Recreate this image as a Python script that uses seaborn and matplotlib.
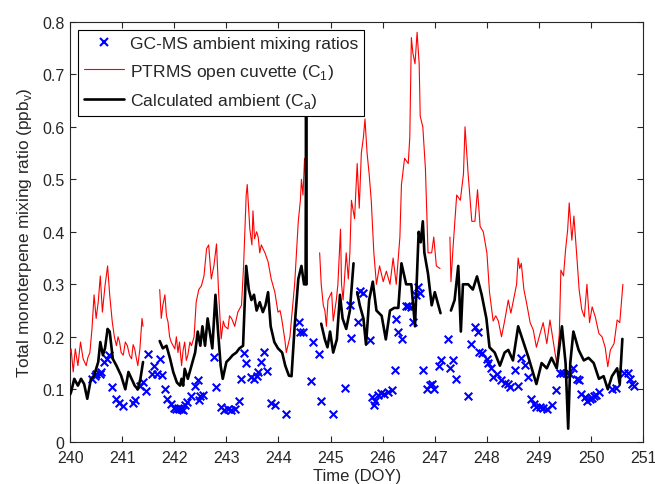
import numpy as np
import pandas as pd
import matplotlib
matplotlib.use("Agg")
import matplotlib.pyplot as plt
from matplotlib.lines import Line2D
import seaborn as sns

nan = np.nan

# PTRMS open cuvette (C1), NaN marks a break in the record
ptrms_t = [240.00, 240.02, 240.06, 240.10, 240.15, 240.20, 240.25, 240.31, 240.34, 240.38,
           240.42, 240.46, 240.50, 240.54, 240.58, 240.62, 240.67, 240.72, 240.76, 240.81,
           240.85, 240.89, 240.92, 240.95, 240.98, 241.02, 241.06, 241.10, 241.14, 241.18,
           241.21, 241.24, 241.27, 241.30, 241.34, 241.38, 241.40, 241.50,
           241.72, 241.75, 241.78, 241.82, 241.85, 241.88, 241.91, 241.94, 242.01, 242.04,
           242.07, 242.10, 242.14, 242.17, 242.20, 242.23, 242.26, 242.30, 242.33, 242.38,
           242.42, 242.47, 242.52, 242.57, 242.62, 242.66, 242.71, 242.76, 242.81, 242.85,
           242.90, 242.94, 242.97, 243.03, 243.06, 243.10, 243.16, 243.22, 243.29, 243.33,
           243.38, 243.40, 243.45, 243.49, 243.51, 243.54, 243.58, 243.61, 243.64, 243.67,
           243.74, 243.80, 243.86, 243.93, 243.99, 244.03, 244.06, 244.12, 244.15, 244.18,
           244.22, 244.25, 244.31, 244.38, 244.42, 244.44, 244.47, 244.50, 244.52, 244.65,
           244.79, 244.82, 244.86, 244.89, 244.92, 244.95, 245.02, 245.05, 245.08, 245.11,
           245.14, 245.19, 245.21, 245.24, 245.30, 245.34, 245.37, 245.40, 245.46, 245.51,
           245.55, 245.59, 245.63, 245.66, 245.70, 245.74, 245.78, 245.83, 245.88, 245.94,
           246.01, 246.07, 246.14, 246.20, 246.26, 246.33, 246.36, 246.42, 246.49, 246.52,
           246.55, 246.58, 246.62, 246.66, 246.70, 246.72, 246.77, 246.82, 246.87, 246.94,
           246.98, 247.03, 247.10, 247.20,
           247.29, 247.31, 247.35, 247.42, 247.49, 247.55, 247.58, 247.64, 247.71, 247.77,
           247.82, 247.87, 247.93, 248.00, 248.05, 248.12, 248.17, 248.22, 248.28, 248.34,
           248.41, 248.46, 248.50, 248.57, 248.60, 248.63, 248.66, 248.71, 248.76, 248.83,
           248.89, 248.95, 249.02, 249.08, 249.15, 249.21, 249.28, 249.34, 249.39, 249.42,
           249.47, 249.51, 249.55, 249.58, 249.63, 249.67, 249.73, 249.77, 249.82, 249.87,
           249.92, 249.97, 250.02, 250.08, 250.15, 250.21, 250.27, 250.32, 250.37, 250.44,
           250.50, 250.55, 250.61]
ptrms_v = [0.170, 0.177, 0.133, 0.177, 0.145, 0.190, 0.158, 0.145, 0.160, 0.170,
           0.215, 0.280, 0.235, 0.266, 0.316, 0.247, 0.297, 0.335, 0.280, 0.228,
           0.200, 0.183, 0.200, 0.190, 0.170, 0.165, 0.190, 0.183, 0.165, 0.158,
           0.185, 0.177, 0.160, 0.145, 0.177, 0.235, 0.220, nan,
           0.290, 0.235, 0.260, 0.280, 0.240, 0.228, 0.200, 0.190, 0.177, 0.200,
           0.170, 0.190, 0.145, 0.175, 0.190, 0.155, 0.165, 0.190, 0.183, 0.200,
           0.266, 0.290, 0.297, 0.316, 0.368, 0.375, 0.310, 0.335, 0.377, 0.285,
           0.196, 0.230, 0.220, 0.215, 0.240, 0.235, 0.220, 0.247, 0.260, 0.335,
           0.470, 0.490, 0.405, 0.375, 0.440, 0.387, 0.400, 0.390, 0.360, 0.375,
           0.360, 0.343, 0.310, 0.285, 0.247, 0.250, 0.235, 0.196, 0.170, 0.183,
           0.200, 0.235, 0.300, 0.420, 0.460, 0.500, 0.470, 0.540, 0.500, nan,
           0.360, 0.300, 0.260, 0.250, 0.220, 0.270, 0.285, 0.230, 0.250, 0.270,
           0.300, 0.405, 0.300, 0.270, 0.360, 0.310, 0.360, 0.460, 0.425, 0.530,
           0.445, 0.550, 0.580, 0.615, 0.550, 0.510, 0.460, 0.360, 0.300, 0.335,
           0.305, 0.325, 0.300, 0.350, 0.300, 0.390, 0.490, 0.540, 0.530, 0.580,
           0.770, 0.740, 0.720, 0.780, 0.720, 0.620, 0.600, 0.520, 0.360, 0.360,
           0.390, 0.335, 0.330, nan,
           0.390, 0.305, 0.370, 0.470, 0.460, 0.510, 0.600, 0.510, 0.420, 0.420,
           0.480, 0.410, 0.400, 0.360, 0.285, 0.230, 0.240, 0.230, 0.200, 0.230,
           0.270, 0.245, 0.265, 0.300, 0.350, 0.330, 0.340, 0.290, 0.265, 0.227,
           0.213, 0.180, 0.206, 0.227, 0.187, 0.232, 0.187, 0.149, 0.206, 0.327,
           0.316, 0.366, 0.404, 0.455, 0.384, 0.430, 0.347, 0.290, 0.252, 0.238,
           0.300, 0.227, 0.257, 0.238, 0.206, 0.200, 0.180, 0.143, 0.175, 0.187,
           0.232, 0.227, 0.300]

# calculated ambient (Ca)
calc_t = [240.00, 240.02, 240.08, 240.15, 240.21, 240.27, 240.33, 240.40, 240.46, 240.54,
          240.58, 240.63, 240.67, 240.72, 240.76, 240.82, 240.89, 240.98, 241.06, 241.12,
          241.18, 241.24, 241.30, 241.35, 241.40, 241.50,
          241.72, 241.78, 241.85, 241.92, 241.98, 242.05, 242.11, 242.14, 242.17, 242.20,
          242.26, 242.33, 242.40, 242.45, 242.50, 242.54, 242.59, 242.64, 242.68, 242.73,
          242.79, 242.84, 242.89, 242.93, 243.00, 243.06, 243.12, 243.19, 243.25, 243.32,
          243.35, 243.38, 243.43, 243.48, 243.53, 243.58, 243.64, 243.70, 243.75, 243.80,
          243.85, 243.92, 243.99, 244.07, 244.13, 244.20, 244.25, 244.31, 244.38, 244.44,
          244.49, 244.52, 244.53, 244.54, 244.65,
          244.82, 244.89, 244.94, 244.99, 245.05, 245.12, 245.18, 245.23, 245.30, 245.37,
          245.44, 245.48,
          245.51, 245.56, 245.63, 245.68, 245.74, 245.81, 245.88, 245.98, 246.06, 246.14,
          246.22, 246.30, 246.36, 246.45, 246.55, 246.62, 246.69, 246.73, 246.77, 246.80,
          246.87, 246.94, 247.00, 247.11, 247.20,
          247.31, 247.38, 247.45, 247.50, 247.54, 247.64, 247.73, 247.81, 247.90, 247.99,
          248.05, 248.15, 248.25, 248.34, 248.41, 248.50, 248.60, 248.70, 248.80, 248.95,
          249.05, 249.15, 249.24, 249.34, 249.44, 249.51, 249.56, 249.60, 249.66, 249.76,
          249.86, 249.95, 250.05, 250.15, 250.24, 250.32, 250.40, 250.50, 250.55, 250.60]
calc_v = [0.090, 0.095, 0.120, 0.107, 0.120, 0.110, 0.082, 0.120, 0.126, 0.152,
          0.190, 0.165, 0.178, 0.215, 0.210, 0.158, 0.145, 0.126, 0.100, 0.133,
          0.120, 0.107, 0.100, 0.120, 0.152, nan,
          0.192, 0.178, 0.183, 0.158, 0.133, 0.113, 0.107, 0.120, 0.107, 0.139,
          0.120, 0.145, 0.170, 0.210, 0.183, 0.220, 0.183, 0.235, 0.210, 0.178,
          0.280, 0.210, 0.145, 0.120, 0.152, 0.158, 0.165, 0.170, 0.178, 0.183,
          0.260, 0.335, 0.290, 0.270, 0.280, 0.250, 0.266, 0.247, 0.260, 0.285,
          0.220, 0.190, 0.178, 0.170, 0.145, 0.126, 0.125, 0.220, 0.310, 0.335,
          0.300, 0.300, 0.680, 0.300, nan,
          0.225, 0.195, 0.180, 0.210, 0.170, 0.195, 0.280, 0.235, 0.215, 0.250,
          0.340, nan,
          0.285, 0.260, 0.235, 0.185, 0.270, 0.305, 0.250, 0.240, 0.195, 0.250,
          0.255, 0.255, 0.340, 0.300, 0.300, 0.220, 0.400, 0.380, 0.420, 0.360,
          0.320, 0.260, 0.285, 0.245, nan,
          0.250, 0.270, 0.335, 0.210, 0.300, 0.300, 0.290, 0.315, 0.280, 0.235,
          0.180, 0.170, 0.145, 0.170, 0.175, 0.155, 0.220, 0.190, 0.160, 0.110,
          0.150, 0.140, 0.160, 0.140, 0.220, 0.150, 0.025, 0.150, 0.210, 0.175,
          0.155, 0.160, 0.150, 0.120, 0.125, 0.100, 0.125, 0.140, 0.110, 0.196]

# GC-MS ambient samples
gcms_t = [240.42, 240.47, 240.50, 240.57, 240.60, 240.65, 240.70, 240.74, 240.81, 240.88,
          240.94, 241.02, 241.20, 241.25, 241.34, 241.40, 241.45, 241.50, 241.57, 241.61,
          241.66, 241.72, 241.77, 241.82, 241.86, 241.93, 242.00, 242.04, 242.07, 242.10,
          242.13, 242.16, 242.20, 242.25, 242.33, 242.39, 242.45, 242.47, 242.50, 242.55,
          242.76, 242.81, 242.90, 242.96, 243.03, 243.09, 243.16, 243.24, 243.28, 243.34,
          243.38, 243.48, 243.53, 243.58, 243.61, 243.66, 243.72, 243.77, 243.86, 243.93,
          244.15, 244.39, 244.42, 244.47, 244.62, 244.67, 244.77, 244.81, 245.04, 245.28,
          245.38, 245.40, 245.53, 245.57, 245.63, 245.76, 245.79, 245.83, 245.86, 245.91,
          245.96, 246.03, 246.10, 246.17, 246.24, 246.26, 246.30, 246.38, 246.44, 246.49,
          246.55, 246.58, 246.64, 246.68, 246.72, 246.78, 246.85, 246.90, 246.94, 246.99,
          247.08, 247.11, 247.25, 247.30, 247.35, 247.40, 247.64, 247.70, 247.78, 247.82,
          247.85, 247.90, 248.01, 248.03, 248.07, 248.12, 248.20, 248.27, 248.35, 248.41,
          248.44, 248.54, 248.60, 248.65, 248.73, 248.78, 248.84, 248.90, 248.95, 249.02,
          249.08, 249.15, 249.25, 249.33, 249.40, 249.47, 249.53, 249.60, 249.66, 249.73,
          249.77, 249.81, 249.88, 249.92, 249.97, 250.02, 250.05, 250.10, 250.15, 250.40,
          250.47, 250.63, 250.70, 250.75, 250.78, 250.83]
gcms_v = [0.120, 0.126, 0.130, 0.130, 0.133, 0.152, 0.158, 0.166, 0.104, 0.081,
          0.074, 0.068, 0.073, 0.079, 0.107, 0.114, 0.097, 0.168, 0.130, 0.145,
          0.130, 0.158, 0.128, 0.101, 0.081, 0.072, 0.064, 0.063, 0.064, 0.062,
          0.063, 0.060, 0.070, 0.076, 0.088, 0.107, 0.117, 0.080, 0.087, 0.090,
          0.161, 0.104, 0.066, 0.060, 0.063, 0.060, 0.063, 0.077, 0.120, 0.169,
          0.150, 0.123, 0.120, 0.126, 0.133, 0.152, 0.172, 0.134, 0.074, 0.070,
          0.053, 0.229, 0.210, 0.210, 0.115, 0.190, 0.168, 0.077, 0.053, 0.102,
          0.260, 0.198, 0.228, 0.288, 0.283, 0.193, 0.085, 0.070, 0.078, 0.090,
          0.093, 0.092, 0.095, 0.098, 0.136, 0.234, 0.210, 0.195, 0.258, 0.258,
          0.256, 0.228, 0.280, 0.294, 0.284, 0.136, 0.100, 0.108, 0.110, 0.100,
          0.145, 0.155, 0.196, 0.140, 0.155, 0.120, 0.087, 0.187, 0.218, 0.210,
          0.172, 0.170, 0.158, 0.150, 0.140, 0.123, 0.130, 0.118, 0.112, 0.110,
          0.104, 0.136, 0.106, 0.159, 0.147, 0.123, 0.082, 0.072, 0.066, 0.067,
          0.065, 0.063, 0.070, 0.099, 0.131, 0.132, 0.131, 0.130, 0.140, 0.120,
          0.118, 0.091, 0.085, 0.078, 0.082, 0.083, 0.088, 0.090, 0.094, 0.100,
          0.102, 0.131, 0.131, 0.120, 0.110, 0.107]


def segments(t, v):
    # split the record where a NaN breaks it, one unit per piece
    df = pd.DataFrame({'t': t, 'v': v})
    df['seg'] = df['v'].isna().cumsum()
    return df.dropna()


sns.set_style('ticks')
plt.rcParams['font.family'] = ['Liberation Sans', 'DejaVu Sans']
plt.rcParams['xtick.direction'] = 'in'
plt.rcParams['ytick.direction'] = 'in'
plt.rcParams['xtick.top'] = True
plt.rcParams['ytick.right'] = True

fig = plt.figure(figsize=(6.55, 4.85), dpi=100)
ax = fig.add_axes([0.107, 0.087, 0.875, 0.866])

sns.scatterplot(x=gcms_t, y=gcms_v, marker='x', color='blue', s=30,
                linewidth=1.5, ax=ax, zorder=2)
sns.lineplot(data=segments(ptrms_t, ptrms_v), x='t', y='v', units='seg',
             estimator=None, color='red', lw=0.8, ax=ax, zorder=3)
sns.lineplot(data=segments(calc_t, calc_v), x='t', y='v', units='seg',
             estimator=None, color='black', lw=1.9, ax=ax, zorder=4)

ax.set_xlim(240, 251)
ax.set_ylim(0, 0.8)
ax.set_xticks(range(240, 252))
ax.set_yticks(np.arange(0, 0.81, 0.1))
ax.set_yticklabels(['0'] + [f'{y:.1f}' for y in np.arange(0.1, 0.81, 0.1)])
ax.tick_params(labelsize=11.5, length=4, width=0.8)
ax.tick_params(axis='x', pad=6)
ax.tick_params(axis='y', pad=4)
for sp in ax.spines.values():
    sp.set_linewidth(0.8)
    sp.set_visible(True)

ax.set_xlabel('Time (DOY)', fontsize=12, labelpad=2)
ax.set_ylabel('Total monoterpene mixing ratio (ppb$_\\mathregular{v}$)', fontsize=12.4, labelpad=6)

handles = [Line2D([], [], ls='none', marker='x', color='blue', ms=6, mew=1.5),
           Line2D([], [], color='red', lw=0.8),
           Line2D([], [], color='black', lw=1.9)]
labels = ['GC-MS ambient mixing ratios',
          'PTRMS open cuvette (C$_\\mathregular{1}$)',
          'Calculated ambient (C$_\\mathregular{a}$)']
leg = ax.legend(handles, labels, loc='upper left', fontsize=12.6, frameon=True,
                fancybox=False, edgecolor='black', framealpha=1,
                handlelength=2.3, handletextpad=0.3, labelspacing=0.6,
                borderpad=0.35, borderaxespad=0.45)
leg.get_frame().set_linewidth(0.8)
leg.set_zorder(10)

fig.savefig('out.png', dpi=100)
